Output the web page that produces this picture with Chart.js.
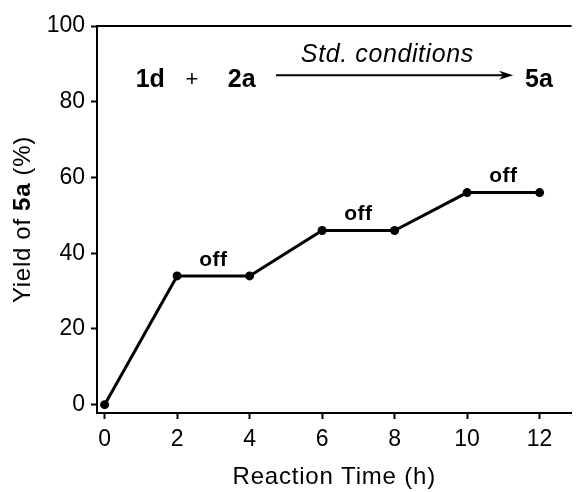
<!DOCTYPE html>
<html>
<head>
<meta charset="utf-8">
<script src="https://cdn.jsdelivr.net/npm/chart.js@4.4.1/dist/chart.umd.min.js"></script>
<style>
  html, body { margin: 0; padding: 0; background: #fff; }
  canvas { display: block; }
</style>
</head>
<body>
<canvas id="c" width="576" height="492"></canvas>
<script>
// Reaction progress with light on/off intervals
const hours = [0, 2, 4, 6, 8, 10, 12];
const yieldPct = [0, 34, 34, 46, 46, 56, 56];
const xTicks = [0, 2, 4, 6, 8, 10, 12];
const yTicks = [0, 20, 40, 60, 80, 100];
// plateau intervals where the light was switched off
const offStart = [2, 6, 10];
const offEnd = [4, 8, 12];
const offYield = [34, 46, 56];

const FONT = "'Liberation Sans', Arial, Helvetica, sans-serif";

// Scheme "1d + 2a --Std. conditions--> 5a" placed in data space
const scheme = {
  y: 85.7,
  r1: { x: 1.26, text: '1d' },
  plus: { x: 2.41, text: '+' },
  r2: { x: 3.78, text: '2a' },
  prod: { x: 11.98, text: '5a' },
  arrow: { x0: 4.73, x1: 11.27, y: 87 },
  cond: { x: 7.8, y: 92.3, text: 'Std. conditions' }
};

function spacedText(ctx, text, x, y, spacing) {
  ctx.letterSpacing = spacing + 'px';
  ctx.fillText(text, x, y);
  ctx.letterSpacing = '0px';
}

const decorations = {
  id: 'decorations',
  afterDraw(chart) {
    const ctx = chart.ctx;
    const xs = chart.scales.x, ys = chart.scales.y;
    const area = chart.chartArea;
    ctx.save();
    ctx.fillStyle = '#000';
    ctx.strokeStyle = '#000';

    // top frame line
    ctx.lineWidth = 2;
    ctx.beginPath();
    ctx.moveTo(area.left - 1, area.top);
    ctx.lineTo(area.right, area.top);
    ctx.stroke();

    // "off" labels above each plateau
    ctx.font = 'bold 21px ' + FONT;
    ctx.textAlign = 'center';
    ctx.textBaseline = 'middle';
    for (let i = 0; i < offStart.length; i++) {
      const cx = xs.getPixelForValue((offStart[i] + offEnd[i]) / 2);
      const cy = ys.getPixelForValue(offYield[i]) - 16;
      spacedText(ctx, 'off', cx, cy, 0.5);
    }

    // reaction scheme
    const sy = ys.getPixelForValue(scheme.y);
    ctx.font = 'bold 25px ' + FONT;
    ctx.fillText(scheme.r1.text, xs.getPixelForValue(scheme.r1.x), sy);
    ctx.fillText(scheme.r2.text, xs.getPixelForValue(scheme.r2.x), sy);
    ctx.fillText(scheme.prod.text, xs.getPixelForValue(scheme.prod.x), sy);
    ctx.font = '22px ' + FONT;
    ctx.fillText(scheme.plus.text, xs.getPixelForValue(scheme.plus.x), sy);
    ctx.font = 'italic 25px ' + FONT;
    spacedText(ctx, scheme.cond.text, xs.getPixelForValue(scheme.cond.x), ys.getPixelForValue(scheme.cond.y), 0.6);

    const ax0 = xs.getPixelForValue(scheme.arrow.x0);
    const ax1 = xs.getPixelForValue(scheme.arrow.x1);
    const ay = ys.getPixelForValue(scheme.arrow.y);
    ctx.lineWidth = 2;
    ctx.beginPath();
    ctx.moveTo(ax0, ay);
    ctx.lineTo(ax1 - 8, ay);
    ctx.stroke();
    ctx.beginPath();
    ctx.moveTo(ax1, ay);
    ctx.lineTo(ax1 - 14, ay - 4.5);
    ctx.lineTo(ax1 - 10, ay);
    ctx.lineTo(ax1 - 14, ay + 4.5);
    ctx.closePath();
    ctx.fill();

    // x-axis title
    ctx.font = '24px ' + FONT;
    spacedText(ctx, 'Reaction Time (h)', (area.left + area.right) / 2, 477, 0.8);

    // y-axis title with bold compound label
    const parts = [
      { t: 'Yield of ', f: '24px ' + FONT },
      { t: '5a', f: 'bold 24px ' + FONT },
      { t: ' (%)', f: '24px ' + FONT }
    ];
    const sp = 0.7;
    ctx.letterSpacing = sp + 'px';
    let total = 0;
    parts.forEach(p => { ctx.font = p.f; p.w = ctx.measureText(p.t).width; total += p.w; });
    ctx.translate(23, (area.top + area.bottom) / 2);
    ctx.rotate(-Math.PI / 2);
    ctx.textAlign = 'left';
    let px = -total / 2;
    parts.forEach(p => { ctx.font = p.f; ctx.fillText(p.t, px, 0); px += p.w; });
    ctx.letterSpacing = '0px';
    ctx.restore();
  }
};

new Chart(document.getElementById('c'), {
  type: 'line',
  data: {
    datasets: [{
      data: hours.map((h, i) => ({ x: h, y: yieldPct[i] })),
      borderColor: '#000',
      backgroundColor: '#000',
      borderWidth: 3,
      pointRadius: 4.5,
      pointBorderWidth: 0,
      tension: 0,
      clip: false
    }]
  },
  options: {
    responsive: false,
    animation: false,
    devicePixelRatio: 1,
    layout: { padding: { left: 0, top: 26, right: 0, bottom: 0 } },
    plugins: { legend: { display: false }, tooltip: { enabled: false } },
    scales: {
      x: {
        type: 'linear',
        min: -0.21,
        max: 12.88,
        afterBuildTicks: s => { s.ticks = xTicks.map(v => ({ value: v })); },
        afterFit: s => { s.height = 79; },
        grid: { drawOnChartArea: false, drawTicks: true, tickLength: 6, tickWidth: 2, tickColor: '#000' },
        border: { display: true, color: '#000', width: 2 },
        ticks: { color: '#000', font: { family: FONT, size: 23 }, padding: 7, maxRotation: 0 }
      },
      y: {
        min: -2.2,
        max: 100,
        afterBuildTicks: s => { s.ticks = yTicks.map(v => ({ value: v })); },
        afterFit: s => { s.width = 97; },
        grid: { drawOnChartArea: false, drawTicks: true, tickLength: 6, tickWidth: 2, tickColor: '#000' },
        border: { display: true, color: '#000', width: 2 },
        ticks: { color: '#000', font: { family: FONT, size: 23 }, padding: 6 }
      }
    }
  },
  plugins: [decorations]
});
</script>
</body>
</html>
